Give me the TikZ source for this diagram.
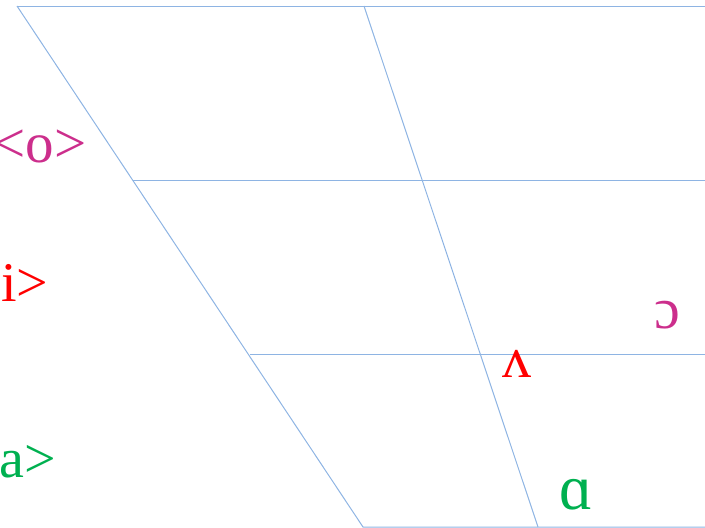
\documentclass[tikz,border=0pt]{standalone}
\usepackage{fontspec}
\setmainfont{Liberation Serif}
\definecolor{gridblue}{HTML}{8EB4E3}
\definecolor{vmag}{HTML}{CC2E8C}
\definecolor{vred}{HTML}{FF0000}
\definecolor{vgreen}{HTML}{00B050}
\begin{document}
\begin{tikzpicture}[x=1pt,y=-1pt,
  grid/.style={draw=gridblue,line width=1pt},
  lab/.style={inner sep=0pt,anchor=base}]
\useasboundingbox (0,0) rectangle (705,528);
\coordinate (tl) at (17,6);
\coordinate (tm) at (364,6);
\coordinate (tr) at (705,6);
\coordinate (bl) at (363,527);
\coordinate (bm) at (538,527);
\coordinate (br) at (705,527);
\coordinate (l1) at (133,180);
\coordinate (r1) at (705,180);
\coordinate (l2) at (250,354);
\coordinate (r2) at (705,354);
\draw[grid] (tl) -- (tr);
\draw[grid] (tl) -- (bl) -- (br);
\draw[grid] (tm) -- (bm);
\draw[grid] (l1) -- (r1);
\draw[grid] (l2) -- (r2);
\node[lab,color=vmag,font=\fontsize{57}{57}\selectfont] (o) at (40,162) {<o>};
\node[lab,color=vred,font=\fontsize{56}{56}\selectfont,anchor=base west] (i) at (1,301) {i>};
\node[lab,color=vgreen,font=\fontsize{56}{56}\selectfont,anchor=base west] (a) at (-1,477) {a>};
\node[lab,color=vmag,font=\fontsize{58}{58}\selectfont] (oo) at (667,328) {ɔ};
\node[lab,color=vred,font=\fontsize{58}{58}\selectfont] (v) at (517,377) {ʌ};
\node[lab,color=vgreen,font=\fontsize{64}{64}\selectfont] (aa) at (576,509) {ɑ};
\end{tikzpicture}
\end{document}
